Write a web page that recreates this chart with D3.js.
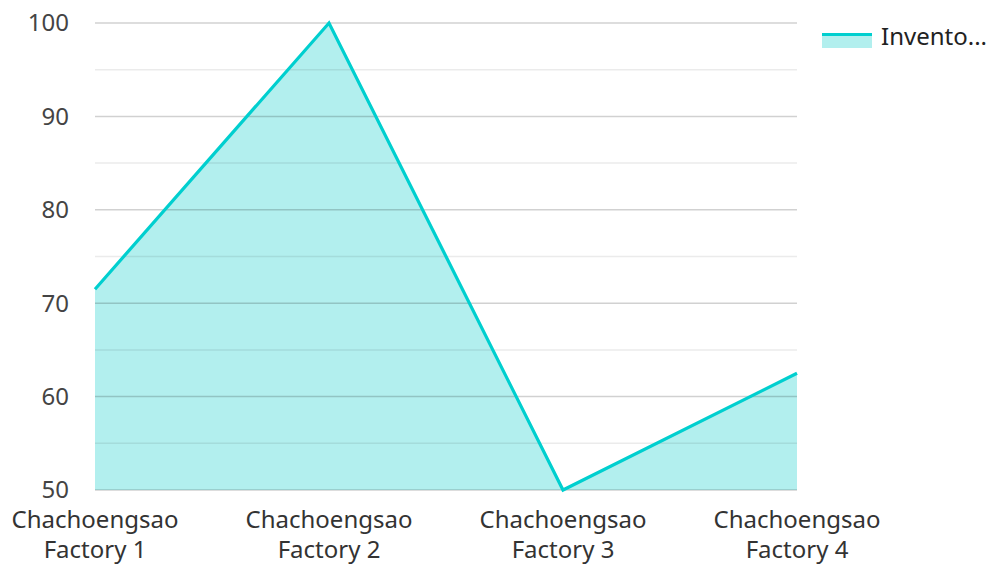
<!DOCTYPE html>
<html>
<head>
<meta charset="utf-8">
<script src="https://cdn.jsdelivr.net/npm/d3@7"></script>
<style>
  body { margin: 0; background: #fff; }
  text { font-family: "Noto Sans", sans-serif; }
</style>
</head>
<body>
<svg id="chart" width="994" height="564"></svg>
<script>
'use strict';

const categories = ['Chachoengsao Factory 1', 'Chachoengsao Factory 2', 'Chachoengsao Factory 3', 'Chachoengsao Factory 4'];
const inventory = [71.5, 100, 50, 62.5];
const yTicks = [50, 60, 70, 80, 90, 100];
const seriesName = 'Invento...';

const svg = d3.select('#chart');
const plot = { left: 95, right: 797, top: 23, bottom: 490 };
const fontSize = 24;

const x = d3.scalePoint()
  .domain(categories)
  .range([plot.left, plot.right]);

const y = d3.scaleLinear()
  .domain([50, 100])
  .range([plot.bottom, plot.top]);

const data = categories.map((c, i) => ({ c, v: inventory[i] }));

// area under the line
svg.append('path')
  .datum(data)
  .attr('fill', '#b2efee')
  .attr('d', d3.area().x(d => x(d.c)).y0(y(50)).y1(d => y(d.v)));

// grid, drawn over the fill
const minor = d3.range(55, 100, 10);
svg.append('g')
  .selectAll('line')
  .data(minor)
  .enter()
  .append('line')
  .attr('x1', plot.left)
  .attr('x2', plot.right)
  .attr('y1', d => y(d))
  .attr('y2', d => y(d))
  .attr('stroke', 'rgba(0,0,0,0.08)')
  .attr('stroke-width', 1.5);

svg.append('g')
  .selectAll('line')
  .data(yTicks)
  .enter()
  .append('line')
  .attr('x1', plot.left)
  .attr('x2', plot.right)
  .attr('y1', d => y(d))
  .attr('y2', d => y(d))
  .attr('stroke', 'rgba(0,0,0,0.18)')
  .attr('stroke-width', 1.5);

svg.append('path')
  .datum(data)
  .attr('fill', 'none')
  .attr('stroke', '#00cfcf')
  .attr('stroke-width', 3.2)
  .attr('d', d3.line().x(d => x(d.c)).y(d => y(d.v)));

// y labels
svg.append('g')
  .selectAll('text')
  .data(yTicks)
  .enter()
  .append('text')
  .attr('x', 69)
  .attr('y', d => y(d))
  .attr('dy', '0.35em')
  .attr('text-anchor', 'end')
  .attr('font-size', fontSize)
  .attr('fill', '#444')
  .text(d => d);

// x labels, split in two lines
const xl = svg.append('g')
  .selectAll('text')
  .data(categories)
  .enter()
  .append('text')
  .attr('text-anchor', 'middle')
  .attr('font-size', fontSize)
  .attr('fill', '#333');

xl.append('tspan')
  .attr('x', d => x(d))
  .attr('y', 528)
  .text(d => d.split(' ')[0]);

xl.append('tspan')
  .attr('x', d => x(d))
  .attr('y', 558)
  .text(d => d.split(' ').slice(1).join(' '));

// legend
const lg = svg.append('g').attr('transform', 'translate(822, 33)');
lg.append('rect')
  .attr('width', 50)
  .attr('height', 15)
  .attr('fill', '#b2efee');
lg.append('line')
  .attr('x1', 0)
  .attr('x2', 50)
  .attr('y1', 1.5)
  .attr('y2', 1.5)
  .attr('stroke', '#00cfcf')
  .attr('stroke-width', 3);
lg.append('text')
  .attr('x', 59)
  .attr('y', 4)
  .attr('dy', '0.35em')
  .attr('font-size', fontSize)
  .attr('fill', '#222')
  .text(seriesName);
</script>
</body>
</html>
